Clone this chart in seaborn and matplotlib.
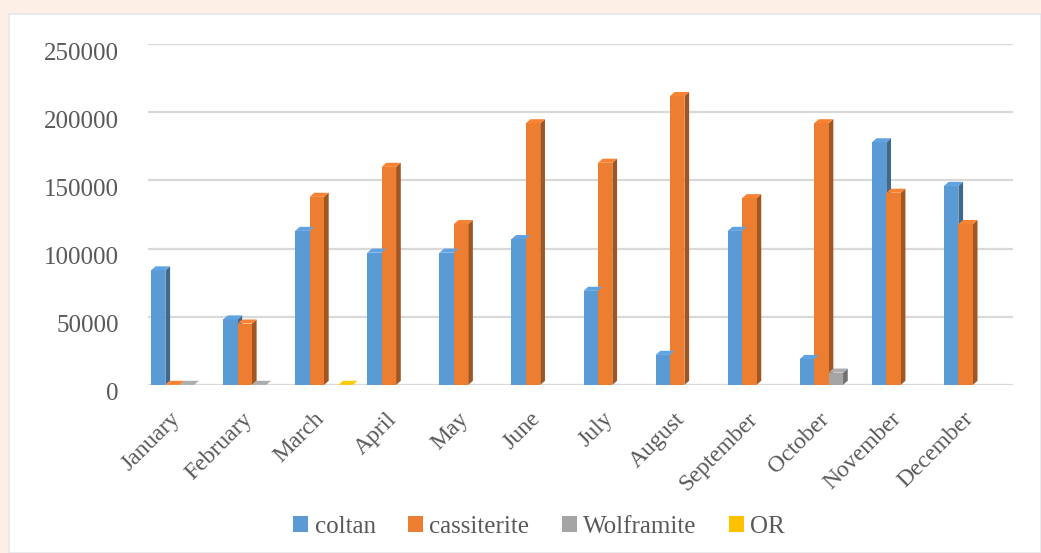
import numpy as np
import pandas as pd
import matplotlib
matplotlib.use("Agg")
import matplotlib.pyplot as plt
from matplotlib.patches import Polygon, Rectangle
import matplotlib.colors as mcolors
import matplotlib.transforms as mtrans
import seaborn as sns

months = ["January", "February", "March", "April", "May", "June", "July",
          "August", "September", "October", "November", "December"]
series = ["coltan", "cassiterite", "Wolframite", "OR"]
coltan = [84000, 48000, 113000, 97000, 97000, 107000, 69000, 22000, 113000, 19000, 178000, 146000]
cassiterite = [0, 45000, 138000, 160000, 118000, 192000, 163000, 212000, 137000, 192000, 141000, 118000]
wolframite = [0, 0, None, None, None, None, None, None, None, 9000, None, None]
or_values = [None, None, 0, None, None, None, None, None, None, None, None, None]
yticks = [0, 50000, 100000, 150000, 200000, 250000]
colors = ["#5b9bd5", "#ed7d31", "#a5a5a5", "#ffc000"]

rows = []
for name, vals in zip(series, [coltan, cassiterite, wolframite, or_values]):
    for m, v in zip(months, vals):
        rows.append({"month": m, "series": name, "value": np.nan if v is None else v})
df = pd.DataFrame(rows)

sns.set_theme(style="white")
plt.rcParams["font.family"] = ["Liberation Serif", "DejaVu Serif"]
text_color = "#595959"

fig = plt.figure(figsize=(10.41, 5.53), dpi=100, facecolor="#fdeee6")
fig.patches.append(Rectangle((9 / 1041, 0), 1 - 9 / 1041, 1 - 14 / 553,
                             transform=fig.transFigure, facecolor="white",
                             edgecolor="#e6e6ea", linewidth=1.2, zorder=-5))
ax = fig.add_axes([0.142, 0.304, 0.831, 0.616])
ax.set_facecolor("none")

sns.barplot(data=df, x="month", y="value", hue="series", order=months,
            hue_order=series, palette=colors, width=0.8, ax=ax,
            saturation=1, errorbar=None, zorder=3, linewidth=0)

# pseudo-3D faces derived from each bar
dx, dy = 0.065, 3000
for cont in ax.containers:
    for p in cont.patches:
        h = p.get_height()
        if h is None or np.isnan(h):
            continue
        x0 = p.get_x()
        w = p.get_width()
        fc = np.array(mcolors.to_rgb(p.get_facecolor()))
        side = Polygon([(x0 + w, 0), (x0 + w, h), (x0 + w + dx, h + dy), (x0 + w + dx, dy)],
                       closed=True, facecolor=fc * 0.68, edgecolor="none", zorder=2.9)
        top = Polygon([(x0, h), (x0 + w, h), (x0 + w + dx, h + dy), (x0 + dx, h + dy)],
                      closed=True, facecolor=np.clip(fc * 1.05, 0, 1), edgecolor="none", zorder=3.1)
        ax.add_patch(side)
        ax.add_patch(top)

ax.set_xlim(-0.444, 11.556)
ax.set_ylim(0, 250000)
ax.set_yticks(yticks)
ax.set_yticklabels([str(v) for v in yticks])
ax.yaxis.grid(True, color="#d9d9d9", linewidth=1.6, zorder=0)
ax.xaxis.grid(False)
for s in ax.spines.values():
    s.set_visible(False)
ax.set_xlabel("")
ax.set_ylabel("")
ax.tick_params(axis="y", length=0, pad=21, labelsize=18, labelcolor=text_color)
ax.tick_params(axis="x", length=0, pad=17, labelsize=17, labelcolor=text_color)
plt.setp(ax.get_xticklabels(), rotation=45, ha="right", rotation_mode="anchor")

ydown = mtrans.ScaledTranslation(0, -7 / 100, fig.dpi_scale_trans)
for lab in ax.get_yticklabels():
    lab.set_transform(lab.get_transform() + ydown)
xshift = mtrans.ScaledTranslation(-10 / 100, 0, fig.dpi_scale_trans)
for lab in ax.get_xticklabels():
    lab.set_transform(lab.get_transform() + xshift)

handles, labels = ax.get_legend_handles_labels()
if ax.get_legend() is not None:
    ax.get_legend().remove()
fig.legend(handles, labels, loc="center", bbox_to_anchor=(0.518, 0.047), ncol=4,
           frameon=False, handlelength=0.6, handleheight=0.6, columnspacing=1.3,
           handletextpad=0.25, prop={"size": 18}, labelcolor=text_color)

fig.savefig("out.png", dpi=100, facecolor=fig.get_facecolor())
